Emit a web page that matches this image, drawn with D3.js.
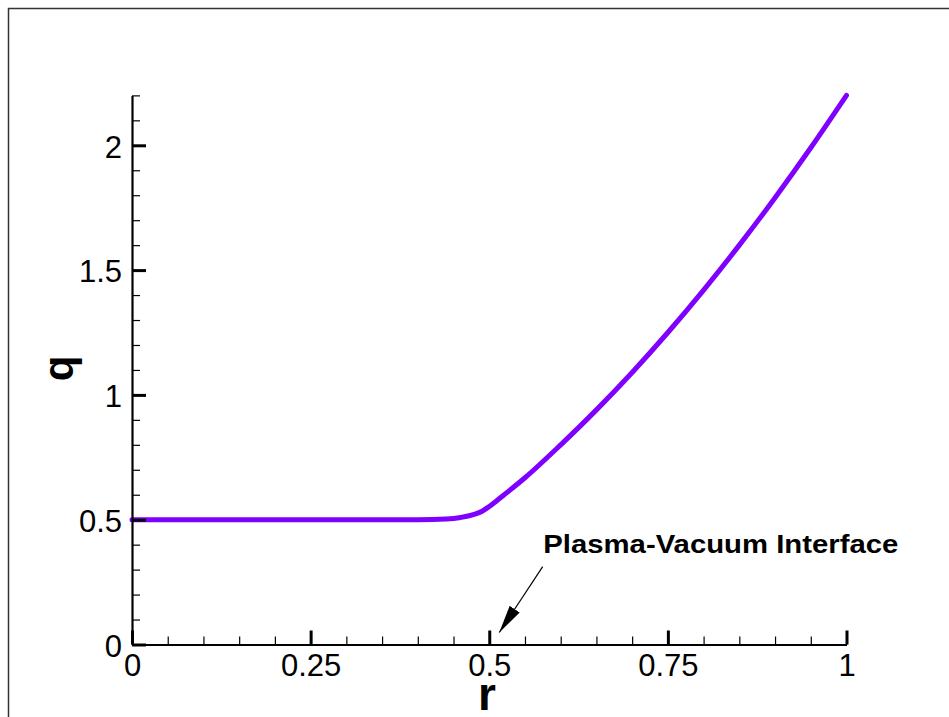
<!DOCTYPE html>
<html>
<head>
<meta charset="utf-8">
<script src="https://cdn.jsdelivr.net/npm/d3@7"></script>
<style>
  html, body { margin: 0; padding: 0; background: #fff; }
  svg { display: block; }
</style>
</head>
<body>
<div id="chart"></div>
<script>
// safety factor profile q(r)
const rValues = [0, 0.05, 0.1, 0.15, 0.2, 0.25, 0.3, 0.35, 0.4, 0.44, 0.46, 0.48, 0.49, 0.5, 0.51, 0.52, 0.55, 0.6, 0.65, 0.7, 0.75, 0.8, 0.85, 0.9, 0.95, 1.0];
const qValues = [0.5, 0.5, 0.5, 0.5, 0.5, 0.5, 0.5, 0.5, 0.5, 0.503, 0.509, 0.522, 0.534, 0.553, 0.575, 0.598, 0.668, 0.8, 0.94, 1.09, 1.25, 1.42, 1.6, 1.79, 1.99, 2.2];

const xMajorTicks = [0, 0.25, 0.5, 0.75, 1];
const xMinorTicks = d3.range(0, 1.0001, 0.05);
const yMajorTicks = [0, 0.5, 1, 1.5, 2];
const yMinorTicks = d3.range(0, 2.2001, 0.1);

const annotation = "Plasma-Vacuum Interface";
const annotationAt = [0.5, 0]; // where the arrow points (r, q)

const W = 949, H = 717;
const lineColor = "#7f00ff";
const font = "'Liberation Sans', Arial, Helvetica, sans-serif";

const svg = d3.select("#chart")
    .append("svg")
    .attr("width", W)
    .attr("height", H);

// outer frame
svg.append("rect")
    .attr("x", 8.5)
    .attr("y", 8.5)
    .attr("width", W)
    .attr("height", H)
    .attr("fill", "none")
    .attr("stroke", "#333")
    .attr("stroke-width", 1.5);

const x = d3.scaleLinear().domain([0, 1]).range([132, 846.5]);
const y = d3.scaleLinear().domain([0, 2.2]).range([644.5, 644.5 - 2.2 * 249.6]);

// curve
const line = d3.line()
    .x((d, i) => x(rValues[i]))
    .y((d, i) => y(qValues[i]))
    .curve(d3.curveMonotoneX);

svg.append("path")
    .datum(qValues)
    .attr("d", line)
    .attr("fill", "none")
    .attr("stroke", lineColor)
    .attr("stroke-width", 5)
    .attr("stroke-linecap", "round")
    .attr("stroke-linejoin", "round");

// minor ticks
svg.append("g")
    .attr("transform", `translate(0,${y(0)})`)
    .call(d3.axisBottom(x).tickValues(xMinorTicks).tickSize(-8).tickSizeOuter(0).tickFormat(""))
    .call(g => g.select(".domain").remove())
    .call(g => g.selectAll(".tick line").attr("stroke", "#000").attr("stroke-width", 1.2));

svg.append("g")
    .attr("transform", `translate(${x(0)},0)`)
    .call(d3.axisLeft(y).tickValues(yMinorTicks).tickSize(-8).tickSizeOuter(0).tickFormat(""))
    .call(g => g.select(".domain").remove())
    .call(g => g.selectAll(".tick line").attr("stroke", "#000").attr("stroke-width", 1.2));

// major ticks + labels
const xAxis = svg.append("g")
    .attr("transform", `translate(0,${y(0)})`)
    .call(d3.axisBottom(x).tickValues(xMajorTicks).tickSize(-14).tickSizeOuter(0).tickPadding(9)
        .tickFormat(d => String(d)));

const yAxis = svg.append("g")
    .attr("transform", `translate(${x(0)},0)`)
    .call(d3.axisLeft(y).tickValues(yMajorTicks).tickSize(-14).tickSizeOuter(0).tickPadding(10)
        .tickFormat(d => String(d)));

[xAxis, yAxis].forEach(g => {
    g.select(".domain").attr("stroke", "#000").attr("stroke-width", 2.2);
    g.selectAll(".tick line").attr("stroke", "#000").attr("stroke-width", 3);
    g.selectAll(".tick text")
        .attr("fill", "#000")
        .style("font-family", font)
        .style("font-size", "31px");
});
yAxis.selectAll(".tick text").attr("dy", "0.38em");

// axis titles
svg.append("text")
    .attr("x", 487)
    .attr("y", 710)
    .attr("text-anchor", "middle")
    .style("font-family", font)
    .style("font-weight", "bold")
    .style("font-size", "46px")
    .text("r");

svg.append("text")
    .attr("transform", "translate(73,368.5) rotate(-90)")
    .attr("text-anchor", "middle")
    .style("font-family", font)
    .style("font-weight", "bold")
    .style("font-size", "42px")
    .text("q");

// annotation
svg.append("defs").append("marker")
    .attr("id", "arrow")
    .attr("viewBox", "0 0 28 12")
    .attr("refX", 28)
    .attr("refY", 6)
    .attr("markerWidth", 28)
    .attr("markerHeight", 12)
    .attr("markerUnits", "userSpaceOnUse")
    .attr("orient", "auto")
    .append("path")
    .attr("d", "M0,0L28,6L0,12Z")
    .attr("fill", "#000");

const tip = [x(annotationAt[0]) + 10, y(annotationAt[1]) - 12];
svg.append("line")
    .attr("x1", 542.7)
    .attr("y1", 566.7)
    .attr("x2", tip[0])
    .attr("y2", tip[1])
    .attr("stroke", "#000")
    .attr("stroke-width", 1.2)
    .attr("marker-end", "url(#arrow)");

svg.append("text")
    .attr("x", 543.3)
    .attr("y", 553.3)
    .attr("textLength", 355)
    .attr("lengthAdjust", "spacingAndGlyphs")
    .style("font-family", font)
    .style("font-weight", "bold")
    .style("font-size", "25.5px")
    .text(annotation);
</script>
</body>
</html>
